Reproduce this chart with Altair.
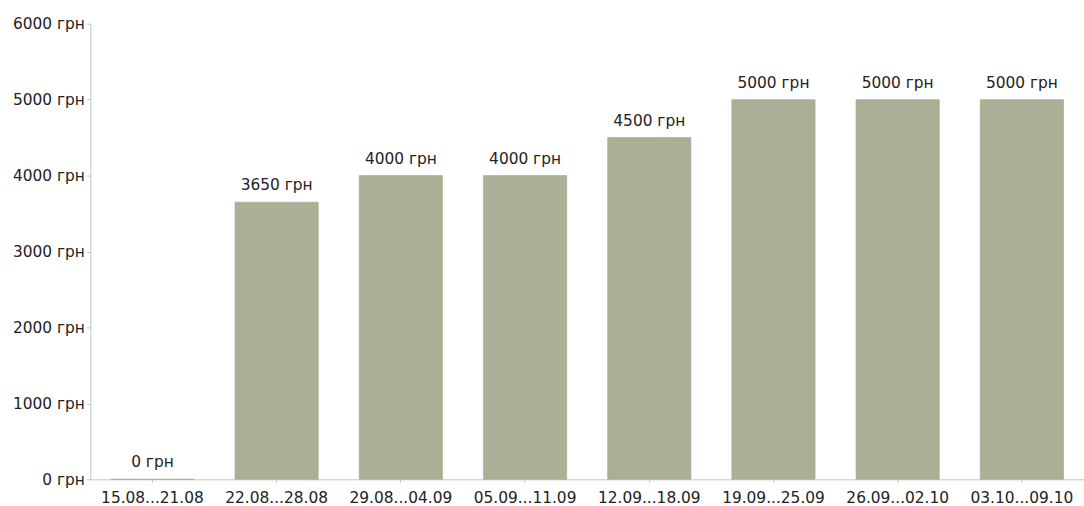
import altair as alt
import pandas as pd

periods = ["15.08...21.08", "22.08...28.08", "29.08...04.09", "05.09...11.09",
           "12.09...18.09", "19.09...25.09", "26.09...02.10", "03.10...09.10"]
values = [0, 3650, 4000, 4000, 4500, 5000, 5000, 5000]
y_ticks = [0, 1000, 2000, 3000, 4000, 5000, 6000]

df = pd.DataFrame({"period": periods, "value": values})
df["label"] = df["value"].astype(str) + " грн"

FONT = "DejaVu Sans"
FS = 15.5
x = alt.X("period:N", sort=periods, title=None,
          scale=alt.Scale(paddingInner=0.33, paddingOuter=0.165),
          axis=alt.Axis(labelAngle=0, labelFont=FONT, labelFontSize=FS, labelColor="#222222",
                        domainColor="#c4c4c4", tickColor="#c4c4c4", tickSize=3, labelPadding=8))
y = alt.Y("value:Q", title=None,
          scale=alt.Scale(domain=[0, 6000], nice=False),
          axis=alt.Axis(values=y_ticks, grid=False, labelExpr="datum.value + ' грн'",
                        labelFont=FONT, labelFontSize=FS, labelColor="#222222",
                        domainColor="#c4c4c4", tickColor="#c4c4c4", tickSize=4, labelPadding=2))

bars = alt.Chart(df).mark_bar(color="#aaaf95", stroke="#a0a589", strokeWidth=0.6).encode(x=x, y=y)
labels = alt.Chart(df).mark_text(font=FONT, fontSize=FS, color="#222222", baseline="alphabetic", dy=-12).encode(
    x=alt.X("period:N", sort=periods), y="value:Q", text="label:N")

chart = (bars + labels).properties(
    width=1001, height=459,
    autosize=alt.AutoSizeParams(type="none"),
    padding={"left": 91, "top": 22, "right": 0, "bottom": 25},
).configure_view(stroke=None)

chart.save("out.html", embed_options={"renderer": "svg", "actions": False})
